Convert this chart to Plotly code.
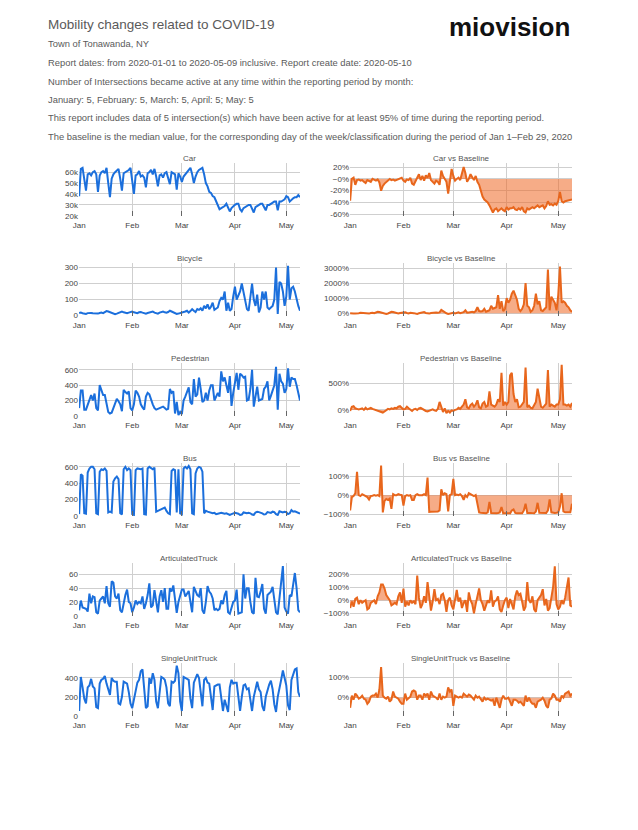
import pandas as pd
import plotly.graph_objects as go

dates = pd.date_range("2020-01-01", "2020-05-09", freq="D")
month_ticks = ["2020-01-01", "2020-02-01", "2020-03-01", "2020-04-01", "2020-05-01"]
month_labels = ["Jan", "Feb", "Mar", "Apr", "May"]

# ---- raw counts ----
car_k = [38,63,64,52,43,58,59, 57,60,61,58,42,57,60, 61,59,64,50,37,54,58, 60,62,63,54,43,59,60,
         61,62,64,53,40,57,58, 61,56,57,55,46,59,60, 62,58,63,56,47,57,58, 55,59,60,55,49,60,59,
         58,44,59,56,51,56,58, 61,62,64,58,50,56,60, 62,63,64,58,50,47,42, 41,38,37,33,30,26,27,
         28,29,31,27,24,27,29, 30,31,31,26,24,27,28, 29,30,30,26,23,28,29, 30,31,31,28,25,30,30,
         31,32,33,33,25,33,33, 34,35,38,37,33,35,36, 37,37,39,37]
car_vs = [-37,0,2,-10,-2,-1,-3,-2,-5,-7, -2,-3,-5,0,-2,-3,-1,-6,-20,-12, -8,-5,-2,0,-2,-1,-3,-2,0,1,
          2,-3,-5,-1,-2,2,-8,-10,-3,2, 8,-2,5,-3,6,2,10,-2,-5,-8, -3,-5,-10,14,5,0,-5,-25,-5,17,
          5,-3,0,2,-2,8,20,10,-5,0, 8,3,-2,5,-5,-10,-20,-30,-35,-38, -40,-45,-52,-57,-52,-50,-55,-52,-50,-53,
          -55,-48,-52,-50,-50,-48,-52,-53,-50,-52, -48,-55,-57,-50,-52,-50,-48,-50,-48,-45,
          -48,-47,-45,-50,-46,-38,-44,-43,-45,-42, -44,-38,-22,-38,-40,-38,-37,-37,-35,-35]

bicycle = ([15,18,14,12,10,15,17,16,14,13,10,12,16,18,15,20,28,25,20,14,10,8,12,18,22,25,20,15,14,18,22]
           + [25,20,18,15,20,22,18,14,12,16,20,22,25,18,15,12,18,22,25,20,18,22,30,25,20,15,10,12,15]
           + [15,20,25,30,18,28,40,30,22,40,35,45,30,60,45,70,40,55,80,35,45,50,90,110,100,150,30,80,30,40,120]
           + [180,100,130,150,200,150,100,40,30,120,200,100,60,130,20,50,150,100,150,50,40,50,60,100,300,10,210,200,150,60]
           + [120,310,100,170,180,150,100,60,30])
bicycle_vs = ([0,20,-10,-20,-30,10,30,20,0,-10,-40,-20,20,40,0,60,100,80,40,0,-30,-40,-10,30,100,80,40,0,-10,20,50]
              + [80,60,20,-10,30,40,10,-20,-40,0,30,40,80,20,0,-20,20,40,80,50,30,60,220,150,40,0,-40,-20,10]
              + [40,-10,30,60,10,50,80,200,40,60,80,100,60,150,400,150,120,150,300,100,150,200,500,300,350,400,1200,300,800,150,300]
              + [1000,700,900,1300,1500,1200,900,300,150,300,600,2000,500,400,100,200,500,1300,600,800,200,150,300,400,2900,200,1100,900,700,200]
              + [1200,3100,700,800,700,500,400,200,100])

pedestrian = [100,330,330,80,80,150,200,270,200,290, 100,70,400,330,270,270,150,50,30,40,
              100,150,220,190,150,60,340,310,290,320, 100,70,150,330,300,250,150,110,80,250,
              300,280,200,150,100,80,90,100,110,120, 100,80,90,350,300,320,30,180,10,50,
              20,200,250,300,370,180,150,480,250,280, 500,350,180,200,300,200,330,400,400,200,
              250,300,250,580,450,500,400,300,520,130, 300,450,560,340,550,530,500,510,200,210,
              350,600,120,250,380,200,210,220,350,380, 450,200,260,350,400,640,80,550,450,420,
              300,350,620,380,500,480,480,400,300,200]
pedestrian_vs = ([-20,60,70,30,20,10,20,30,0,40,10,30,40,20,10,0,-20,-30,-40,-50,-30,0,20,10,30,20,40,30,60,70,40]
                 + [10,20,60,30,0,-20,10,20,0,30,40,20,-10,-20,-30,-20,0,10,-10,-20,20,150,60,-40,30,-60,-20,-50,-10]
                 + [-20,0,10,40,20,60,100,200,50,30,90,120,60,100,180,50,30,120,150,60,80,350,100,80,60,100,200,150,700,80,150]
                 + [100,150,650,700,300,150,200,50,60,100,150,800,50,80,40,30,100,150,400,250,60,40,80,120,750,60,100,80,60,100]
                 + [100,200,850,100,100,80,100,60,130])

bus = [20,510,490,30,25,530,580,600,600,570, 30,20,540,570,560,580,550,40,50,40,
       420,460,480,450,30,15,570,600,560,580, 560,20,10,560,580,570,570,580,20,15,
       580,600,590,570,590,50,60,70,80,90, 100,60,30,20,550,570,560,40,570,30,
       20,580,600,580,610,570,30,20,520,580, 600,590,540,30,60,50,45,40,30,35,
       20,25,30,35,30,25,30,15,10,20, 30,35,30,25,10,15,40,35,30,35,
       30,15,10,40,50,45,40,30,15,20, 45,40,35,50,45,20,10,55,45,40,
       50,45,20,30,70,50,55,45,40,25]
bus_vs = [-80,-10,-5,10,122,0,-5,5,0,-5, -10,-23,-5,-3,0,-3,0,-5,155,-90,
          -30,-20,-25,-18,-72,5,0,0,5,2, 0,-55,-5,0,-3,0,-25,-25,0,5,
          0,0,0,5,0,92,-88,-87,-86,-85, -84,-86,-80,30,0,10,5,-85,0,5,
          85,0,3,0,5,-5,-25,0,-10,10, 5,0,-5,0,-50,-90,-92,-93,-94,-95,
          -90,-35,-93,-94,-95,-94,-93,-90,-62,-95, -94,-93,-94,-95,-80,-75,-93,-94,-95,-94,
          -95,-80,-45,-93,-92,-93,-94,-95,-85,-40, -92,-93,-94,-92,-93,-80,-22,-90,-92,-93,
          -92,-90,-60,10,-85,-90,-90,-91,-90,-45]

artic = [8,22,12,11,10,6,32,18,28,27, 5,3,22,25,28,18,43,18,13,50, 48,28,25,32,8,5,20,30,38,20,
         18,5,12,22,17,20,18,28,10,18, 30,47,12,15,37,20,5,28,37,20, 40,10,10,40,35,44,25,4,20,30,
         38,38,28,32,36,20,5,42,35,30, 28,40,8,3,20,43,35,32,25,8, 10,8,10,22,17,30,36,5,3,12,
         20,22,38,3,4,5,60,25,40,40, 20,5,3,55,28,27,35,46,10,3, 30,32,35,42,20,5,2,28,50,72,
         12,6,3,30,28,45,62,40,8,5]
artic_vs = ([-60,-10,-50,10,20,-30,0,-20,-10,0,-70,-60,-20,-10,0,-30,30,60,120,120,90,40,20,0,-40,-30,-20,-30,30,60,-20]
            + [90,-50,-10,-40,0,-20,-10,-30,190,20,-60,-30,30,-20,140,0,-80,-10,85,0,10,-30,40,50,0,-90,0,20,-40]
            + [-70,0,80,-10,20,-60,-20,0,-90,60,0,-30,-100,-30,20,90,0,-30,-80,-30,0,-20,75,-50,-10,0,30,-70,-90,-40,0]
            + [20,-60,10,-40,-70,30,75,40,50,-10,-80,-50,140,0,-20,30,-70,-90,0,20,40,85,-40,10,-80,-60,20,100,260,-30]
            + [-70,-50,0,-30,20,100,175,-40,-50])

single = [50,410,300,180,130,300,320,390,310,290, 90,80,340,380,390,420,340,290,220,400,
          370,360,360,130,120,200,360,350,340,250, 130,80,180,280,350,380,470,490,240,80,
          100,400,340,450,380,150,80,250,410,400, 380,300,130,100,360,350,370,530,450,150,
          50,410,400,390,380,180,80,350,390,440, 400,220,100,380,400,350,340,200,60,310,
          320,330,330,200,50,170,100,40,300,380, 340,350,350,210,50,200,320,330,280,290,
          180,50,200,300,360,280,250,100,50,200, 270,330,370,280,120,40,200,310,380,480,
          390,320,110,60,380,450,490,500,250,200]
single_vs = ([-50,10,-10,20,10,-5,0,10,-5,-10,-30,-20,5,10,10,20,0,40,150,10,0,-5,5,-20,-10,30,5,0,-5,-20,-30]
             + [-30,20,-10,0,5,30,35,30,-10,10,10,-10,20,10,20,-10,30,10,5,0,-10,20,-10,5,0,5,50,30,40]
             + [-40,10,5,0,5,0,20,10,5,15,10,0,-10,10,0,5,-10,-20,0,-10,-5,-10,-15,-10,-40,0,-30,-50,-10,10,-5]
             + [-5,0,-20,-40,-10,-10,-15,-25,-20,-30,-40,10,-20,0,-20,-30,-30,-50,-20,-15,-10,0,-15,-40,-50,-10,-5,20,10,-10]
             + [-10,-20,10,0,20,25,30,10,20])

# title, values, is_baseline, y-range, tick values, tick labels
panels = [
    ("Car", car_k, False, [19.8, 68.4], [20, 30, 40, 50, 60], ["20k", "30k", "40k", "50k", "60k"]),
    ("Car vs Baseline", car_vs, True, [-63, 27], [-60, -40, -20, 0, 20], ["-60%", "-40%", "-20%", "\u22120%", "20%"]),
    ("Bicycle", bicycle, False, [-3, 328], [0, 100, 200, 300], ["0", "100", "200", "300"]),
    ("Bicycle vs Baseline", bicycle_vs, True, [-180, 3340], [0, 1000, 2000, 3000], ["0%", "1000%", "2000%", "3000%"]),
    ("Pedestrian", pedestrian, False, [-3, 690], [0, 200, 400, 600], ["0", "200", "400", "600"]),
    ("Pedestrian vs Baseline", pedestrian_vs, True, [-115, 885], [0, 500], ["0%", "500%"]),
    ("Bus", bus, False, [-3, 647], [0, 200, 400, 600], ["0", "200", "400", "600"]),
    ("Bus vs Baseline", bus_vs, True, [-109, 168], [-100, 0, 100], ["\u2212100%", "0%", "100%"]),
    ("ArticulatedTruck", artic, False, [-0.4, 76.5], [0, 20, 40, 60], ["0", "20", "40", "60"]),
    ("ArticulatedTruck vs Baseline", artic_vs, True, [-121, 286], [-100, 0, 100, 200], ["\u2212100%", "0%", "100%", "200%"]),
    ("SingleUnitTruck", single, False, [-3, 558], [0, 200, 400], ["0", "200", "400"]),
    ("SingleUnitTruck vs Baseline", single_vs, True, [-90, 170], [0, 100], ["0%", "100%"]),
]

for p in panels:
    assert len(p[1]) == len(dates), (p[0], len(p[1]))

W, H = 638, 830
BLUE = "#1b6fdc"
ORANGE = "#e8661c"
FILL = "rgba(238,104,36,0.55)"
FONT = "Liberation Sans, Arial, sans-serif"
GRID = "#cfcfcf"
TXT = "#5a5a5a"

fig = go.Figure()
layout = dict(width=W, height=H, margin=dict(l=0, r=0, t=0, b=0, autoexpand=False),
              paper_bgcolor="white", plot_bgcolor="white", showlegend=False,
              font=dict(family=FONT, size=8, color="#444"))
annotations = []

for i, (title, vals, is_base, yr, tv, tt) in enumerate(panels):
    row, col = divmod(i, 2)
    k = i + 1
    x0, x1 = (79, 300) if col == 0 else (350, 572)
    top, bot = 163 + 100 * row, 216 + 100 * row
    xa = "x" if k == 1 else f"x{k}"
    ya = "y" if k == 1 else f"y{k}"
    fig.add_trace(go.Scatter(
        x=dates, y=vals, mode="lines", xaxis=xa, yaxis=ya,
        line=dict(color=ORANGE if is_base else BLUE, width=2),
        fill="tozeroy" if is_base else None,
        fillcolor=FILL if is_base else None,
        hoverinfo="skip"))
    layout["xaxis" if k == 1 else f"xaxis{k}"] = dict(
        domain=[x0 / W, x1 / W], anchor=ya, type="date",
        range=["2019-12-31 22:00", "2020-05-09"],
        tickvals=month_ticks, ticktext=month_labels,
        showgrid=True, gridcolor=GRID, gridwidth=1, zeroline=False, showline=False,
        ticks="inside", ticklen=5, tickcolor="#666", tickwidth=1, ticklabelstandoff=3,
        tickfont=dict(size=8, color="#444", family=FONT), fixedrange=True)
    layout["yaxis" if k == 1 else f"yaxis{k}"] = dict(
        domain=[1 - bot / H, 1 - top / H], anchor=xa, range=yr,
        tickvals=tv, ticktext=tt, showgrid=True, gridcolor=GRID, gridwidth=1,
        zeroline=False, showline=False, ticks="",
        tickfont=dict(size=8, color="#444", family=FONT), fixedrange=True)
    annotations.append(dict(
        text=title, x=(x0 + x1) / 2 / W, y=1 - (158 + 100 * row) / H,
        xref="paper", yref="paper", xanchor="center", yanchor="middle",
        showarrow=False, font=dict(size=8, color="#555", family=FONT)))

# header texts
annotations.append(dict(text="Mobility changes related to COVID-19", x=46 / W, y=1 - 24 / H,
                        xref="paper", yref="paper", xanchor="left", yanchor="middle",
                        showarrow=False, font=dict(size=13.5, color=TXT, family=FONT)))
header_lines = [
    "Town of Tonawanda, NY",
    "Report dates: from 2020-01-01 to 2020-05-09 inclusive. Report create date: 2020-05-10",
    "Number of Intersections became active at any time within the reporting period by month:",
    "January: 5, February: 5, March: 5, April: 5; May: 5",
    "This report includes data of 5 intersection(s) which have been active for at least 95% of time during the reporting period.",
    "The baseline is the median value, for the corresponding day of the week/classification during the period of Jan 1\u2013Feb 29, 2020",
]
line_y = [43.5, 62.3, 81, 99.5, 117.8, 136.3]
for txt, yy in zip(header_lines, line_y):
    annotations.append(dict(text=txt, x=46 / W, y=1 - yy / H, xref="paper", yref="paper",
                            xanchor="left", yanchor="middle", showarrow=False,
                            font=dict(size=9.4, color=TXT, family=FONT)))
annotations.append(dict(text="<b>miovision</b>", x=510 / W, y=1 - 27.5 / H,
                        xref="paper", yref="paper", xanchor="center", yanchor="middle",
                        showarrow=False, font=dict(size=26, color="#111", family=FONT)))

layout["annotations"] = annotations
fig.update_layout(**layout)
fig.write_html(
    "out.html",
    config={"displayModeBar": False},
    post_script=("document.body.style.margin='0px';document.body.style.overflow='hidden';"
                 "var d=document.getElementById('{plot_id}');d.style.position='absolute';"
                 "d.style.left='0px';d.style.top='0px';"))
